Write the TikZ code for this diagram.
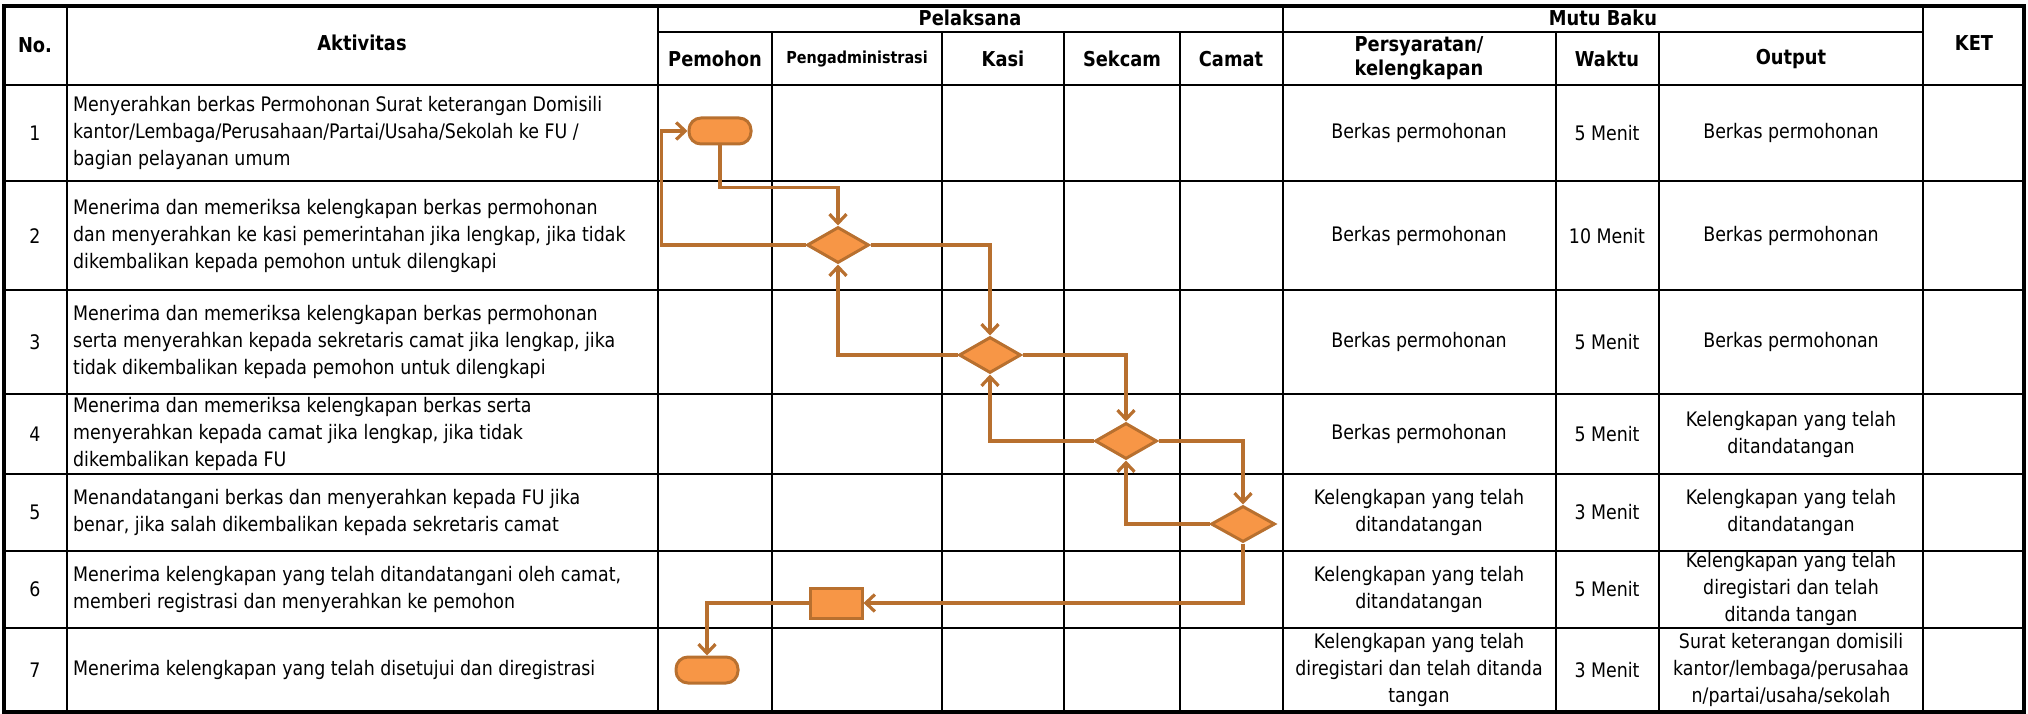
\documentclass[tikz,border=0pt]{standalone}
\usepackage{fontspec}
\setmainfont{DejaVu Sans}[FakeStretch=0.87]
\usetikzlibrary{arrows.meta,shapes.geometric}

\definecolor{boxfill}{HTML}{F79646}
\definecolor{boxline}{HTML}{B8702F}

\newcommand{\bodysize}{\fontsize{20}{27}\selectfont}
\newcommand{\headsize}{\fontsize{20.5}{25}\selectfont\bfseries}
\newcommand{\smallhead}{\fontsize{16.5}{20}\selectfont\bfseries}

\tikzset{
  grid/.style={line width=2.4pt, black},
  frame/.style={line width=4.5pt, black},
  hd/.style={inner sep=0pt, align=center, font=\headsize},
  txt/.style={inner sep=0pt, align=left, anchor=west, font=\bodysize},
  ctr/.style={inner sep=0pt, align=center, font=\bodysize},
  term/.style={draw=boxline, fill=boxfill, line width=3pt, rounded corners=12pt,
    minimum width=62pt, minimum height=26pt, inner sep=0pt},
  dec/.style={diamond, draw=boxline, fill=boxfill, line width=3pt,
    minimum width=62pt, minimum height=36pt, inner sep=0pt},
  proc/.style={rectangle, draw=boxline, fill=boxfill, line width=3pt,
    minimum width=52pt, minimum height=30pt, inner sep=0pt},
  flow/.style={draw=boxline, line width=3.2pt,
    -{Straight Barb[length=9pt,width=17pt]}},
}

\begin{document}
\begin{tikzpicture}[x=1pt,y=-1pt]
\useasboundingbox (0,0) rectangle (2028,714);

% --- table rules ---
% full-height column rules
\foreach \cx in {67,658,1283,1923} \draw[grid] (\cx,6) -- (\cx,712);
% sub-columns below the group headings
\foreach \cx in {772,942,1064,1180,1556,1659} \draw[grid] (\cx,32) -- (\cx,712);
% group heading divider
\draw[grid] (658,32) -- (1923,32);
% row rules
\foreach \ry in {85,181,290,394,474,551,628} \draw[grid] (4,\ry) -- (2024,\ry);
% outer frame
\draw[frame] (4,6) rectangle (2024,712);

% --- header ---
\node[hd] (hno)   at (35,45)   {No.};
\node[hd] (hakt)  at (362,43)  {Aktivitas};
\node[hd] (hpel)  at (970,18)  {Pelaksana};
\node[hd] (hmutu) at (1603,18) {Mutu Baku};
\node[hd] (hpem)  at (715,59)  {Pemohon};
\node[hd, font=\smallhead] (hadm) at (857,59) {Pengadministrasi};
\node[hd] (hkasi) at (1003,59) {Kasi};
\node[hd] (hsek)  at (1122,59) {Sekcam};
\node[hd] (hcam)  at (1231,59) {Camat};
\node[hd, font=\fontsize{20.5}{24}\selectfont\bfseries] (hper) at (1419,58) {Persyaratan/\\kelengkapan};
\node[hd] (hwak)  at (1607,59) {Waktu};
\node[hd] (hout)  at (1791,59) {Output};
\node[hd] (hket)  at (1974,43) {KET};

% --- numbers ---
\node[ctr] (n1) at (35,133) {1};
\node[ctr] (n2) at (35,236) {2};
\node[ctr] (n3) at (35,342) {3};
\node[ctr] (n4) at (35,434) {4};
\node[ctr] (n5) at (35,512) {5};
\node[ctr] (n6) at (35,589) {6};
\node[ctr] (n7) at (35,670) {7};

% --- activities ---
\node[txt] (a1) at (73,133) {Menyerahkan berkas Permohonan Surat keterangan Domisili\\kantor/Lembaga/Perusahaan/Partai/Usaha/Sekolah ke FU /\\bagian pelayanan umum};
\node[txt] (a2) at (73,236) {Menerima dan memeriksa kelengkapan berkas permohonan\\dan menyerahkan ke kasi pemerintahan jika lengkap, jika tidak\\dikembalikan kepada pemohon untuk dilengkapi};
\node[txt] (a3) at (73,342) {Menerima dan memeriksa kelengkapan berkas permohonan\\serta menyerahkan kepada sekretaris camat jika lengkap, jika\\tidak dikembalikan kepada pemohon untuk dilengkapi};
\node[txt] (a4) at (73,434) {Menerima dan memeriksa kelengkapan berkas serta\\menyerahkan kepada camat jika lengkap, jika tidak\\dikembalikan kepada FU};
\node[txt] (a5) at (73,512) {Menandatangani berkas dan menyerahkan kepada FU jika\\benar, jika salah dikembalikan kepada sekretaris camat};
\node[txt] (a6) at (73,589) {Menerima kelengkapan yang telah ditandatangani oleh camat,\\memberi registrasi dan menyerahkan ke pemohon};
\node[txt] (a7) at (73,670) {Menerima kelengkapan yang telah disetujui dan diregistrasi};

% --- requirements ---
\node[ctr] (p1) at (1419,133) {Berkas permohonan};
\node[ctr] (p2) at (1419,236) {Berkas permohonan};
\node[ctr] (p3) at (1419,342) {Berkas permohonan};
\node[ctr] (p4) at (1419,434) {Berkas permohonan};
\node[ctr] (p5) at (1419,512) {Kelengkapan yang telah\\ditandatangan};
\node[ctr] (p6) at (1419,589) {Kelengkapan yang telah\\ditandatangan};
\node[ctr] (p7) at (1419,670) {Kelengkapan yang telah\\diregistari dan telah ditanda\\tangan};

% --- time ---
\node[ctr] (w1) at (1607,133) {5 Menit};
\node[ctr] (w2) at (1607,236) {10 Menit};
\node[ctr] (w3) at (1607,342) {5 Menit};
\node[ctr] (w4) at (1607,434) {5 Menit};
\node[ctr] (w5) at (1607,512) {3 Menit};
\node[ctr] (w6) at (1607,589) {5 Menit};
\node[ctr] (w7) at (1607,670) {3 Menit};

% --- output ---
\node[ctr] (o1) at (1791,133) {Berkas permohonan};
\node[ctr] (o2) at (1791,236) {Berkas permohonan};
\node[ctr] (o3) at (1791,342) {Berkas permohonan};
\node[ctr] (o4) at (1791,434) {Kelengkapan yang telah\\ditandatangan};
\node[ctr] (o5) at (1791,512) {Kelengkapan yang telah\\ditandatangan};
\node[ctr] (o6) at (1791,589) {Kelengkapan yang telah\\diregistari dan telah\\ditanda tangan};
\node[ctr] (o7) at (1791,670) {Surat keterangan domisili\\kantor/lembaga/perusahaa\\n/partai/usaha/sekolah};

% --- flow symbols ---
\node[term] (t1) at (720,131) {};
\node[dec]  (d1) at (838,245) {};
\node[dec]  (d2) at (990,355) {};
\node[dec]  (d3) at (1126,441) {};
\node[dec, minimum width=64pt]  (d4) at (1243,524) {};
\node[proc] (r1) at (836,603) {};
\node[term] (t2) at (707,670) {};

% --- connectors ---
\draw[flow] (t1.south) -- ++(0,42) -| (d1.north);
\draw[flow] (d1.west) -| ([xshift=-26pt]t1.west) -- (t1.west);
\draw[flow] (d1.east) -| (d2.north);
\draw[flow] (d2.west) -| (d1.south);
\draw[flow] (d2.east) -| (d3.north);
\draw[flow] (d3.west) -| (d2.south);
\draw[flow] (d3.east) -| (d4.north);
\draw[flow] (d4.west) -| (d3.south);
\draw[flow] (d4.south) |- (r1.east);
\draw[flow] (r1.west) -| (t2.north);
\end{tikzpicture}
\end{document}
